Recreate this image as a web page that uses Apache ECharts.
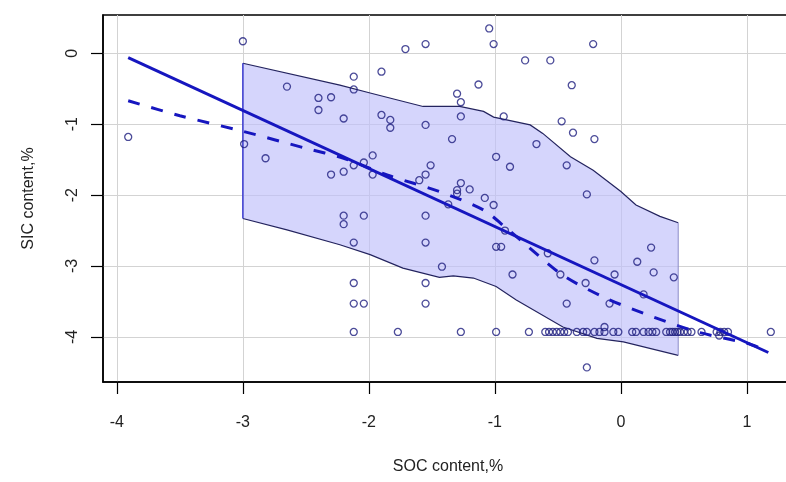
<!DOCTYPE html>
<html>
<head>
<meta charset="utf-8">
<script src="https://cdn.jsdelivr.net/npm/echarts@6/dist/echarts.min.js"></script>
<style>
  html, body { margin: 0; padding: 0; background: #fff; }
  #main { width: 786px; height: 482px; }
</style>
</head>
<body>
<div id="main"></div>
<script>
// tick labels
const xTicks = [-4, -3, -2, -1, 0, 1];
const yTicks = [-4, -3, -2, -1, 0];

// observed points (SOC, SIC)
const socX = [
  -3.00, -2.65, -2.40, -2.30, -2.40, -3.91, -2.99, -2.82, -2.30, -1.045,
  -1.01, -1.71, -1.55, -0.76, -0.56, -2.12, -1.90, -2.12, -1.13, -1.30,
  -1.27, -1.27, -0.93, -2.20, -1.90, -1.83, -1.83, -1.55, -1.34, -0.47,
  -0.67, -0.99, -0.88, -0.43, -2.20, -1.97, -2.04, -2.12, -1.97, -1.51,
  -1.55, -1.60, -1.27, -1.30, -1.30, -1.20, -1.08, -0.22, -0.39, -0.38,
  -0.21, -0.27, -2.20, -2.20, -2.04, -1.55, -2.12, -1.55, -1.42, -2.12,
  -1.55, -2.12, -2.04, -1.55, -1.01, -1.37, -0.99, -0.95, -0.92, -0.86,
  -0.58, -0.48, -0.43, 0.24, 0.13, -0.21, -0.05, 0.26, 0.42, -0.28,
  -0.09, 0.18, -0.13, -0.27, 0.78
];
const sicY = [
  0.17, -0.47, -0.63, -0.62, -0.80, -1.18, -1.28, -1.48, -1.71, 0.35,
  0.13, 0.06, 0.13, -0.10, -0.10, -0.33, -0.26, -0.51, -0.44, -0.57,
  -0.69, -0.89, -0.89, -0.92, -0.87, -0.94, -1.05, -1.01, -1.21, -0.96,
  -1.28, -1.46, -1.60, -1.58, -1.67, -1.44, -1.54, -1.58, -1.71, -1.58,
  -1.71, -1.79, -1.83, -1.93, -1.98, -1.92, -2.04, 0.13, -0.45, -1.12,
  -1.21, -1.99, -2.29, -2.41, -2.29, -2.29, -2.67, -2.67, -3.01, -3.24,
  -3.24, -3.53, -3.53, -3.53, -2.14, -2.13, -2.73, -2.73, -2.50, -3.12,
  -2.82, -3.12, -3.53, -2.74, -2.94, -2.92, -3.12, -3.09, -3.16, -3.24,
  -3.53, -3.40, -3.86, -4.43, -3.98
];
// points sitting on the detection floor
const floorX = [
  -2.12, -1.77, -1.27, -0.99, -0.73, -0.60, -0.57, -0.54, -0.51, -0.48,
  -0.45, -0.42, -0.35, -0.30, -0.27, -0.21, -0.17, -0.13, -0.06, -0.02,
  0.09, 0.12, 0.18, 0.22, 0.25, 0.28, 0.36, 0.39, 0.41, 0.43,
  0.45, 0.47, 0.50, 0.53, 0.56, 0.64, 0.76, 0.79, 0.82, 0.85, 1.19
];
const floorY = -3.93;

// linear fit
const fitX = [-3.91, 1.17];
const fitY = [-0.06, -4.22];

// smooth fit (dashed)
const smoothX = [-3.91, -3.5, -3.0, -2.5, -2.2, -1.85, -1.44, -1.09, -0.92, -0.78, -0.46, -0.11, 0.26, 0.63, 1.0, 1.17];
const smoothY = [-0.67, -0.88, -1.10, -1.34, -1.48, -1.72, -1.95, -2.21, -2.45, -2.66, -3.13, -3.46, -3.72, -3.94, -4.09, -4.20];

// band
const bandUpX = [-3.0, -2.23, -1.99, -1.57, -1.28, -1.09, -1.01, -0.72, -0.62, -0.40, -0.22, 0.0, 0.12, 0.31, 0.455];
const bandUpY = [-0.14, -0.45, -0.56, -0.75, -0.75, -0.82, -0.90, -1.01, -1.13, -1.46, -1.65, -1.95, -2.14, -2.30, -2.39];
const bandLoX = [-3.0, -2.65, -2.23, -1.99, -1.73, -1.44, -1.33, -1.17, -0.99, -0.83, -0.46, -0.19, 0.02, 0.455];
const bandLoY = [-2.33, -2.49, -2.70, -2.84, -3.03, -3.16, -3.14, -3.17, -3.29, -3.48, -3.86, -4.02, -4.07, -4.26];

const pts = socX.map((x, i) => [x, sicY[i]]).concat(floorX.map(x => [x, floorY]));
const zip = (a, b) => a.map((x, i) => [x, b[i]]);
const upPts = zip(bandUpX, bandUpY);
const loPts = zip(bandLoX, bandLoY);
const polyPts = upPts.concat(loPts.slice().reverse());

const font = "'Liberation Sans', Arial, sans-serif";
const chart = echarts.init(document.getElementById('main'), null, { renderer: 'canvas' });

const option = {
  animation: false,
  backgroundColor: '#fff',
  grid: {
    left: 103, top: 15, width: 690, height: 367,
    show: true, borderColor: '#000', borderWidth: 1.5,
    containLabel: false, outerBoundsMode: 'none'
  },
  xAxis: {
    type: 'value', min: -4.11, max: 1.366,
    name: 'SOC content,%', nameLocation: 'middle', nameGap: 77,
    nameTextStyle: { fontFamily: font, fontSize: 16, color: '#222' },
    axisLine: { show: true, onZero: false, lineStyle: { color: '#000', width: 1.5 } },
    axisTick: { show: true, length: 12, lineStyle: { color: '#000', width: 1.2 }, customValues: xTicks },
    axisLabel: { fontFamily: font, fontSize: 16, color: '#222', margin: 33, customValues: xTicks },
    splitLine: { show: true, lineStyle: { color: '#d3d3d3', width: 1 } }
  },
  yAxis: {
    type: 'value', min: -4.636, max: 0.54,
    name: 'SIC content,%', nameLocation: 'middle', nameGap: 66, nameRotate: 90,
    nameTextStyle: { fontFamily: font, fontSize: 16, color: '#222' },
    axisLine: { show: true, onZero: false, lineStyle: { color: '#000', width: 1.5 } },
    axisTick: { show: true, length: 12, lineStyle: { color: '#000', width: 1.2 }, customValues: yTicks },
    axisLabel: { fontFamily: font, fontSize: 16, color: '#222', margin: 22, rotate: 90, customValues: yTicks },
    splitLine: { show: true, lineStyle: { color: '#d3d3d3', width: 1 } }
  },
  series: [
    {
      type: 'custom',
      z: 1,
      renderItem: function (params, api) {
        const poly = polyPts.map(p => api.coord(p));
        const up = upPts.map(p => api.coord(p));
        const lo = loPts.map(p => api.coord(p));
        return {
          type: 'group',
          children: [
            { type: 'polygon', shape: { points: poly }, style: { fill: 'rgba(190,190,250,0.65)', stroke: null } },
            { type: 'polyline', shape: { points: up }, style: { stroke: '#23235e', lineWidth: 1.2, fill: null } },
            { type: 'polyline', shape: { points: lo }, style: { stroke: '#23235e', lineWidth: 1.2, fill: null } },
            { type: 'line', shape: { x1: up[0][0], y1: up[0][1], x2: lo[0][0], y2: lo[0][1] }, style: { stroke: '#3a3ad0', lineWidth: 1.5 } },
            { type: 'line', shape: { x1: up[up.length - 1][0], y1: up[up.length - 1][1], x2: lo[lo.length - 1][0], y2: lo[lo.length - 1][1] }, style: { stroke: '#8c8cc8', lineWidth: 1 } }
          ]
        };
      },
      data: [[0, 0]],
      silent: true
    },
    {
      type: 'scatter',
      z: 3,
      data: pts,
      symbol: 'circle',
      symbolSize: 7,
      itemStyle: { color: 'rgba(0,0,0,0)', borderColor: '#1f1f80', borderWidth: 1.3 }
    },
    {
      type: 'line',
      z: 4,
      data: zip(fitX, fitY),
      symbol: 'none',
      lineStyle: { color: '#1616bf', width: 3 }
    },
    {
      type: 'line',
      z: 4,
      data: zip(smoothX, smoothY),
      symbol: 'none',
      smooth: 0.3,
      lineStyle: { color: '#1616bf', width: 3, type: [12, 12] }
    }
  ]
};
chart.setOption(option);
</script>
</body>
</html>
